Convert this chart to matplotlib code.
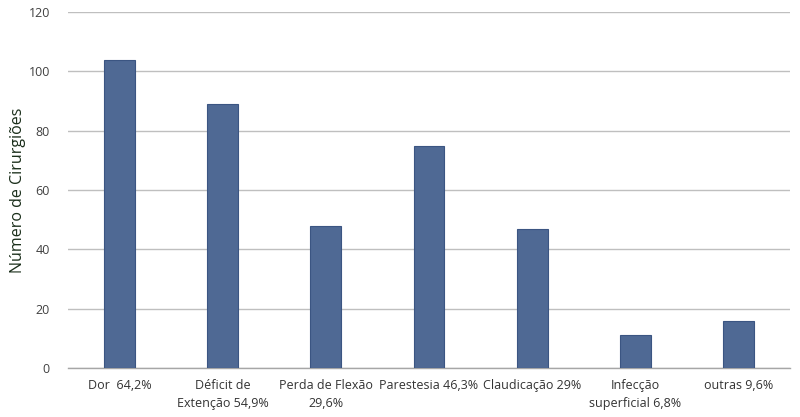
import matplotlib.pyplot as plt

categorias = ['Dor  64,2%', 'Déficit de\nExtenção 54,9%', 'Perda de Flexão\n29,6%',
              'Parestesia 46,3%', 'Claudicação 29%', 'Infecção\nsuperficial 6,8%',
              'outras 9,6%']
cirurgioes = [104, 89, 48, 75, 47, 11, 16]
yticks = [0, 20, 40, 60, 80, 100, 120]

plt.rcParams['font.family'] = ['Open Sans', 'DejaVu Sans']

fig = plt.figure(figsize=(8, 4.17), dpi=100)
ax = fig.add_axes([0.085, 0.1175, 0.9025, 0.8535])

x = range(len(categorias))
ax.bar(x, cirurgioes, width=0.3, color='#4f6994', edgecolor='#3b5582', linewidth=0.8, zorder=3)

ax.set_xlim(-0.5, len(categorias) - 0.5)
ax.set_ylim(0, 120)
ax.set_yticks(yticks)
ax.set_xticks(list(x))
ax.set_xticklabels(categorias, fontsize=9, color='#333333', linespacing=1.5)
ax.tick_params(axis='y', labelsize=9, colors='#404040', length=0, pad=13)
ax.tick_params(axis='x', length=0, pad=8)

ax.grid(axis='y', color='#bfbfbf', linewidth=1, zorder=0)
for s in ['top', 'right', 'left']:
    ax.spines[s].set_visible(False)
ax.spines['bottom'].set_color('#a6a6a6')
ax.spines['bottom'].set_linewidth(1)

ax.set_ylabel('Número de Cirurgiões', fontsize=11.5, color='#1a2e1a', labelpad=2)

fig.savefig('out.png', dpi=100)
